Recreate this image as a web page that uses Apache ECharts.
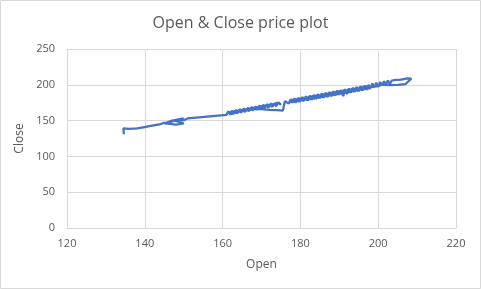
<!DOCTYPE html>
<html>
<head>
<meta charset="utf-8">
<script src="https://cdn.jsdelivr.net/npm/echarts@6/dist/echarts.min.js"></script>
<style>
  html, body { margin: 0; padding: 0; background: #fff; }
  #chart-container { width: 481px; height: 289px; }
</style>
</head>
<body>
<div id="chart-container"></div>
<script>
// open / close pairs, in time order
var openVals = [
  134.6, 134.5, 136, 138, 140, 141.5, 143, 144, 145, 146, 147, 148, 149, 150, 149, 147, 146, 145, 145.5, 147, 148, 150, 149.5, 148, 150, 151,
  161, 161.5, 162, 162.5, 163, 163.5, 164, 164.5, 165, 165.5, 166, 166.5, 167, 167.5, 168, 168.5, 169, 169.5, 170, 170.5,
  171, 171.5, 172, 172.5, 173, 173.5, 174, 174.5, 175,
  174.75, 174.25, 173.75, 173.25, 172.75, 172.25, 171.75, 171.25, 170.75, 170.25, 169.75, 169.25, 168.75, 168.25,
  167.75, 167.25, 166.75, 166.25, 165.75, 165.25, 164.75, 164.25, 163.75, 163.25, 162.75, 162.25, 161.75, 161.25,
  165, 168, 170, 172, 174, 175.5, 176,
  176.5, 177, 177.5, 178, 178.5, 179, 179.5, 180, 180.5, 181, 181.5, 182, 182.5, 183, 183.5, 184, 184.5, 185, 185.5, 186,
  186.5, 187, 187.5, 188, 188.5, 189, 189.5, 190, 190.5, 191, 191.5, 192, 192.5, 193, 193.5, 194, 194.5, 195, 195.5, 196,
  196.5, 197, 197.5, 198, 198.5, 199, 199.5, 200, 200.5, 201, 201.5, 202, 202.5, 203, 203.5, 204, 204.5, 205, 205.5, 206,
  206.5, 207, 207.5, 208, 208.5, 209,
  207, 205, 203, 201, 200, 198,
  197.75, 197.25, 196.75, 196.25, 195.75, 195.25, 194.75, 194.25, 193.75, 193.25, 192.75, 192.25, 191.75, 191.25,
  190.75, 190.25, 189.75, 189.25, 188.75, 188.25, 187.75, 187.25, 186.75, 186.25, 185.75, 185.25, 184.75, 184.25,
  183.75, 183.25, 182.75, 182.25, 181.75, 181.25, 180.75, 180.25, 179.75, 179.25, 178.75, 178.25, 177.75, 177.25
];
var closeVals = [
  131, 139, 138.5, 139, 141, 142.5, 144, 145, 147, 146, 149, 150, 151, 153, 152, 150, 148, 146, 144, 145, 144.5, 146, 148, 149.5, 150.5, 153,
  158, 163, 159, 164, 160, 165, 161, 166, 162, 167, 163, 168, 164, 169, 165, 170, 166, 171, 168, 172,
  169, 173, 170, 174, 171, 174, 172, 175, 172,
  171, 175, 170, 174, 169, 173, 168, 172, 167, 171, 166, 170, 165, 169,
  164, 168, 163, 167, 162, 166, 161, 165, 160, 164, 159, 163, 158.5, 161,
  163.5, 166.5, 166, 165, 164.5, 164, 177,
  179, 174, 180, 175, 181, 176, 182, 177, 183, 178, 184, 178, 185, 179, 186, 180, 187, 181, 188, 182,
  189, 183, 190, 184, 191, 185, 192, 186, 193, 184, 194, 187, 195, 189, 196, 190, 197, 191, 198, 192,
  199, 193, 200, 195, 202, 196, 203, 197, 204, 199, 205, 200, 206, 201, 206, 205, 207, 205, 207, 206,
  208, 207, 209, 208, 208.5, 207.5,
  201, 200, 199.5, 200, 198, 197,
  194, 199, 193, 198, 192, 197, 191, 196, 190, 195, 189, 194, 188, 193,
  187, 192, 186, 191, 185, 190, 184, 189, 183, 188, 182, 187, 181, 186,
  180, 185, 179, 184, 178, 183, 177, 182, 176, 181, 175, 180, 175, 179
];
var points = openVals.map(function (o, i) { return [o, closeVals[i]]; });

var dom = document.getElementById('chart-container');
var myChart = echarts.init(dom, null, { renderer: 'canvas' });

var option = {
  animation: false,
  textStyle: { fontFamily: 'Open Sans' },
  title: {
    text: 'Open & Close price plot',
    left: 'center',
    top: 10,
    textStyle: { color: '#595959', fontSize: 16, fontWeight: 'normal', fontFamily: 'Open Sans' }
  },
  graphic: [{
    type: 'rect',
    shape: { x: 0.5, y: 0.5, width: 480, height: 288 },
    style: { fill: null, stroke: '#d9d9d9', lineWidth: 1 },
    silent: true
  }],
  grid: { left: 67, right: 25, top: 49, bottom: 61 },
  xAxis: {
    type: 'value',
    min: 120,
    max: 220,
    interval: 20,
    name: 'Open',
    nameLocation: 'middle',
    nameGap: 31,
    nameTextStyle: { color: '#595959', fontSize: 12 },
    axisLine: { show: true, lineStyle: { color: '#d9d9d9' } },
    axisTick: { show: false },
    axisLabel: { color: '#595959', fontSize: 11, margin: 10 },
    splitLine: { show: true, lineStyle: { color: '#d9d9d9' } }
  },
  yAxis: {
    type: 'value',
    min: 0,
    max: 250,
    interval: 50,
    name: 'Close',
    nameLocation: 'middle',
    nameGap: 40,
    nameTextStyle: { color: '#595959', fontSize: 12 },
    axisLine: { show: false },
    axisTick: { show: false },
    axisLabel: { color: '#595959', fontSize: 11, margin: 12 },
    splitLine: { show: true, lineStyle: { color: '#d9d9d9' } }
  },
  series: [{
    name: 'Close',
    type: 'line',
    data: points,
    showSymbol: false,
    lineStyle: { color: '#4472C4', width: 2.25 },
    itemStyle: { color: '#4472C4' }
  }]
};

myChart.setOption(option);
window.addEventListener('resize', myChart.resize);
</script>
</body>
</html>
